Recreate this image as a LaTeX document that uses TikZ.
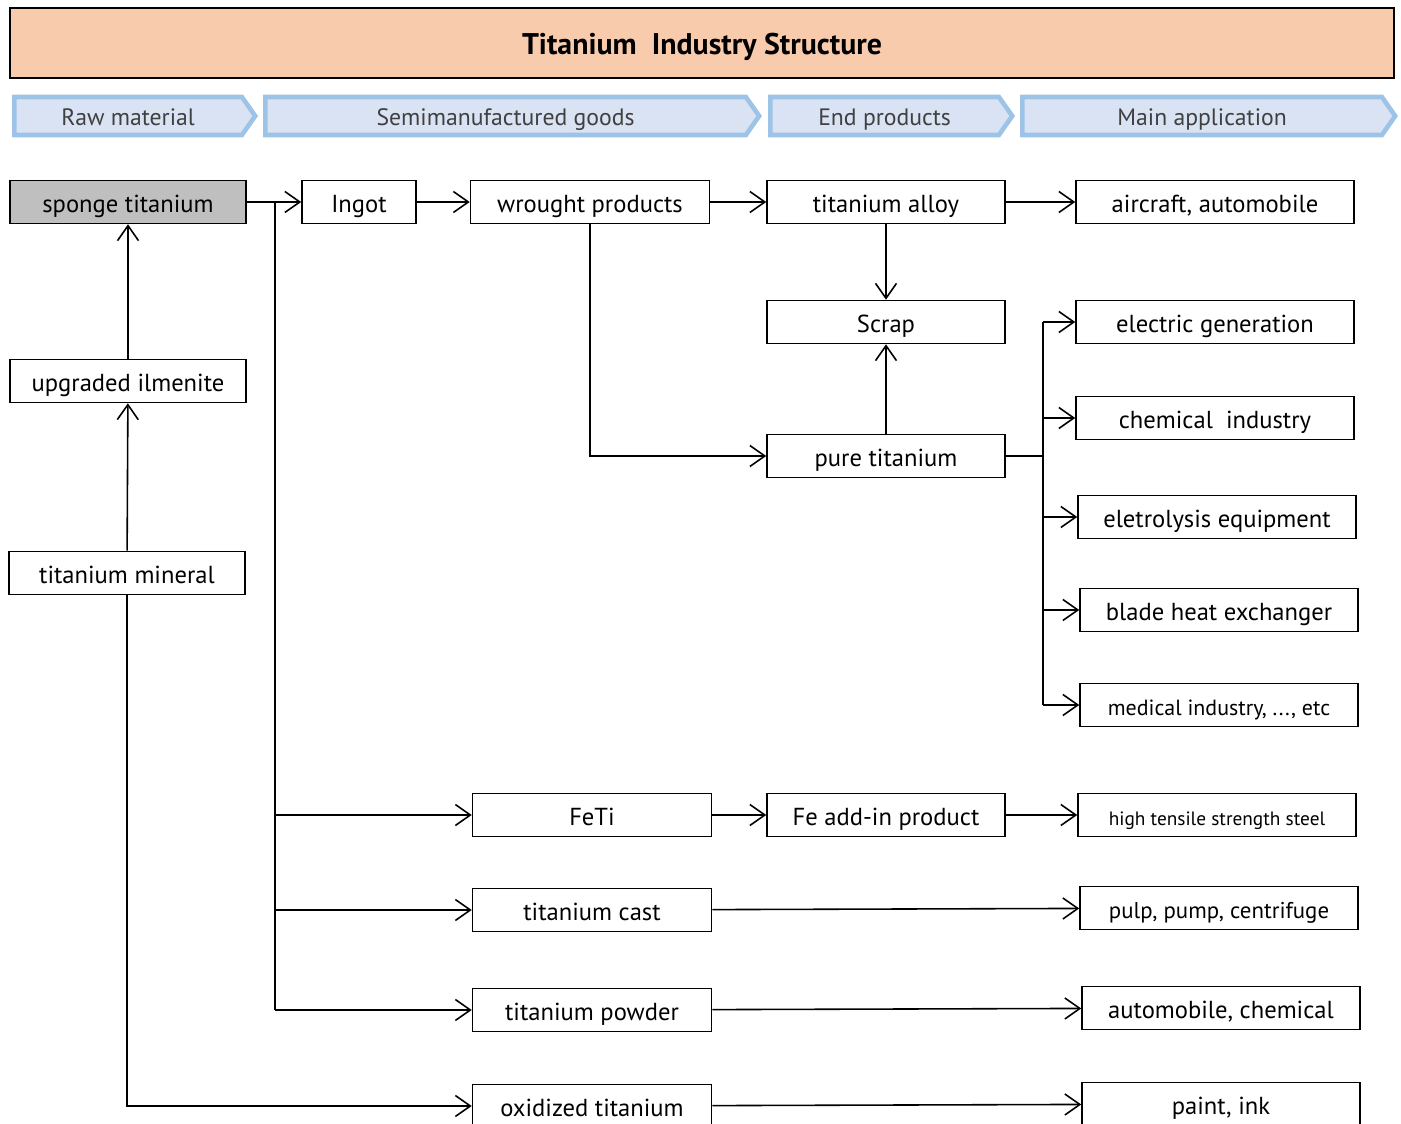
\documentclass[tikz,border=0pt]{standalone}
\usepackage{fontspec}
\setmainfont{PT Sans}
\usepackage{tikz}
\usetikzlibrary{arrows.meta, shapes.symbols, positioning}

\definecolor{titlefill}{HTML}{F8CBAD}
\definecolor{stagefill}{HTML}{DAE3F3}
\definecolor{stageline}{HTML}{9DC3E6}
\definecolor{stagetext}{HTML}{404040}
\definecolor{spongefill}{HTML}{BFBFBF}

\tikzset{
  titlebox/.style={rectangle, draw=black, line width=1.1pt, fill=titlefill, minimum width=27.68cm, minimum height=1.4cm, text height=16pt, text depth=3pt, font=\fontsize{17}{20}\selectfont\bfseries},
  stage/.style={signal, signal to=east, signal from=nowhere, signal pointer angle=110, draw=stageline, line width=2.6pt, fill=stagefill, minimum height=0.76cm, anchor=west, inner sep=0pt, text height=14pt, text depth=3pt, text=stagetext, font=\fontsize{13.5}{16}\selectfont},
  blk/.style={rectangle, draw=black, line width=0.9pt, minimum height=0.86cm, inner sep=0pt, text height=15pt, text depth=3pt, text centered, font=\fontsize{14}{16}\selectfont},
  rawblk/.style={blk, minimum width=4.72cm},
  semiblk/.style={blk, minimum width=4.78cm},
  endblk/.style={blk, minimum width=4.76cm},
  appblk/.style={blk, minimum width=5.56cm},
  arr/.style={line width=0.9pt, -{Straight Barb[length=3mm,width=4.2mm]}},
  bus/.style={line width=0.9pt}
}

\begin{document}
\begin{tikzpicture}[x=0.02cm, y=-0.02cm]
  \clip (0,0) rectangle (1401,1124);

  % Titel und Stufen
  \node[titlebox] (title) at (702,43) {Titanium\ \ Industry Structure};
  \node[stage, minimum width=4.82cm] (raw) at (12,116) {Raw material};
  \node[stage, minimum width=9.88cm] (semi) at (263,116) {Semimanufactured goods};
  \node[stage, minimum width=4.84cm] (endp) at (768,116) {End products};
  \node[stage, minimum width=7.46cm] (appl) at (1020,116) {Main application};

  % Rohstoffe
  \node[rawblk, fill=spongefill] (sponge) at (128,202) {sponge titanium};
  \node[rawblk] (ilmenite) at (128,381) {upgraded ilmenite};
  \node[rawblk] (mineral) at (127,573) {titanium mineral};

  % Halbzeuge
  \node[blk, minimum width=2.28cm] (ingot) at (359,202) {Ingot};
  \node[semiblk] (wrought) at (590,202) {wrought products};
  \node[semiblk] (feti) at (592,815) {FeTi};
  \node[semiblk] (cast) at (592,910) {titanium cast};
  \node[semiblk] (powder) at (592,1010) {titanium powder};
  \node[semiblk] (oxid) at (592,1106) {oxidized titanium};

  % Endprodukte
  \node[endblk] (alloy) at (886,202) {titanium alloy};
  \node[endblk] (scrap) at (886,322) {Scrap};
  \node[endblk] (pure) at (886,456) {pure titanium};
  \node[endblk] (feadd) at (886,815) {Fe add-in product};

  % Anwendungen
  \node[appblk] (aircraft) at (1215,202) {aircraft, automobile};
  \node[appblk] (elec) at (1215,322) {electric generation};
  \node[appblk] (chem) at (1215,418) {chemical\ \ industry};
  \node[appblk] (elyt) at (1217,517) {eletrolysis equipment};
  \node[appblk] (blade) at (1219,610) {blade heat exchanger};
  \node[appblk, font=\fontsize{12.5}{15}\selectfont] (med) at (1219,705) {medical industry, ..., etc};
  \node[appblk, font=\fontsize{11}{13}\selectfont] (steel) at (1217,815) {high tensile strength steel};
  \node[appblk, font=\fontsize{13}{15}\selectfont] (pulp) at (1219,908) {pulp, pump, centrifuge};
  \node[appblk] (autochem) at (1221,1008) {automobile, chemical};
  \node[appblk] (paint) at (1221,1104) {paint, ink};

  % Verbindungen Rohstoffe
  \draw[arr] (mineral) -- (ilmenite);
  \draw[arr] (ilmenite) -- (sponge);
  \draw[arr] (mineral.south) |- (oxid.west);
  \draw[arr] (sponge) -- (ingot);

  % Verzweigung nach unten
  \coordinate (split) at (275,202);
  \draw[bus] (split) -- (split |- powder.west);
  \foreach \to in {feti, cast, powder}
    \draw[arr] (split |- \to.west) -- (\to.west);

  % Hauptstrang
  \draw[arr] (ingot) -- (wrought);
  \draw[arr] (wrought) -- (alloy);
  \draw[arr] (alloy) -- (aircraft);
  \draw[arr] (alloy) -- (scrap);
  \draw[arr] (wrought.south) |- (pure.west);
  \draw[arr] (pure) -- (scrap);

  % Reintitan zu Anwendungen
  \coordinate (appbus) at (1043,456);
  \draw[bus] (pure.east) -- (appbus);
  \draw[bus] (appbus |- elec.west) -- (appbus |- med.west);
  \foreach \to in {elec, chem, elyt, blade, med}
    \draw[arr] (appbus |- \to.west) -- (\to.west);

  % untere Zweige
  \draw[arr] (feti) -- (feadd);
  \draw[arr] (feadd) -- (steel);
  \draw[arr] (cast) -- (pulp);
  \draw[arr] (powder) -- (autochem);
  \draw[arr] (oxid) -- (paint);
\end{tikzpicture}
\end{document}
